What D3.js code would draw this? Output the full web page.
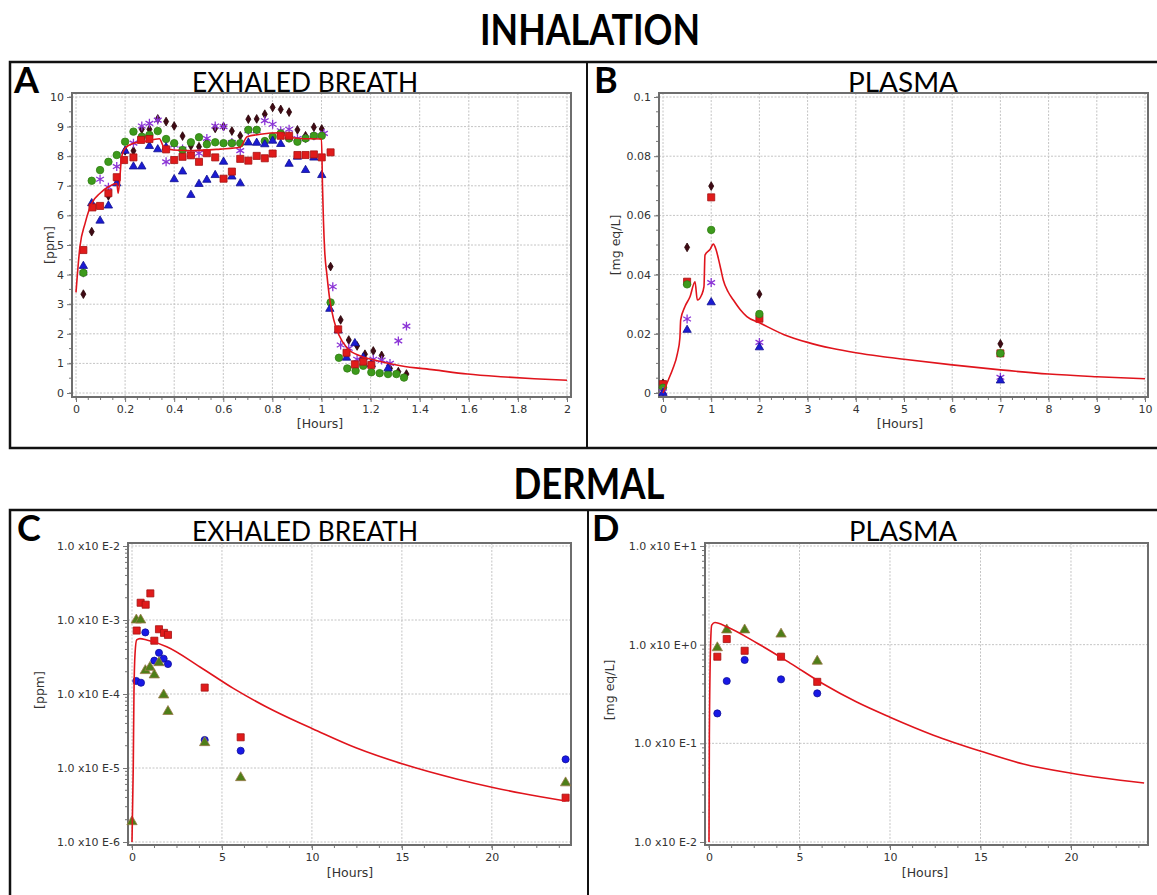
<!DOCTYPE html>
<html>
<head>
<meta charset="utf-8">
<script src="https://cdn.jsdelivr.net/npm/d3@7"></script>
<style>
  body { margin: 0; background: #fff; }
  svg { display: block; }
</style>
</head>
<body>
<script>
// Panel A - inhalation, exhaled breath [ppm] vs hours
const aDiamond = [[0.03,3.34],[0.064,5.45],[0.132,6.66],[0.166,7.2],[0.2,8.18],[0.234,8.18],[0.268,8.91],[0.299,8.91],[0.333,9.26],[0.367,9.17],[0.4,9.02],[0.434,8.68],[0.468,8.35],[0.501,8.32],[0.533,8.46],[0.567,8.94],[0.601,9.0],[0.635,8.85],[0.669,8.69],[0.702,9.25],[0.736,9.26],[0.769,9.42],[0.801,9.65],[0.834,9.58],[0.868,9.49],[0.902,8.89],[0.935,8.69],[0.969,8.98],[1.001,8.92],[1.037,4.27],[1.078,2.47],[1.111,1.79],[1.145,1.59],[1.177,1.31],[1.211,1.42],[1.245,1.27],[1.279,0.83],[1.313,0.72],[1.346,0.64]];
const aSquare = [[0.03,4.83],[0.067,6.27],[0.098,6.32],[0.132,6.75],[0.166,7.29],[0.196,7.87],[0.234,7.96],[0.265,8.55],[0.299,8.58],[0.367,8.23],[0.4,7.87],[0.434,7.98],[0.468,8.03],[0.501,7.81],[0.533,8.1],[0.567,7.96],[0.601,7.24],[0.635,7.48],[0.669,7.91],[0.702,7.85],[0.736,8.01],[0.769,7.93],[0.801,8.09],[0.834,8.69],[0.868,8.69],[0.902,8.04],[0.935,8.04],[0.969,8.06],[1.001,7.96],[1.037,8.13],[1.068,2.15],[1.102,1.36],[1.136,0.97],[1.17,1.06],[1.203,0.95]];
const aCircle = [[0.03,4.06],[0.064,7.17],[0.098,7.53],[0.132,7.81],[0.166,8.04],[0.2,8.49],[0.234,8.83],[0.268,8.66],[0.299,8.72],[0.333,8.85],[0.367,8.58],[0.4,8.44],[0.434,8.21],[0.468,8.47],[0.501,8.64],[0.533,8.4],[0.567,8.47],[0.601,8.44],[0.635,8.44],[0.669,8.44],[0.702,8.89],[0.736,8.89],[0.769,8.51],[0.801,8.66],[0.834,8.77],[0.868,8.6],[0.902,8.49],[0.935,8.6],[0.969,8.69],[1.001,8.69],[1.037,3.06],[1.071,1.19],[1.105,0.83],[1.139,0.75],[1.17,0.92],[1.203,0.7],[1.237,0.67],[1.271,0.64],[1.305,0.64],[1.336,0.52]];
const aTriangle = [[0.03,4.29],[0.064,6.41],[0.098,5.82],[0.132,6.33],[0.166,7.08],[0.2,8.18],[0.234,7.65],[0.268,7.65],[0.299,8.34],[0.333,8.23],[0.367,8.3],[0.4,7.22],[0.434,7.48],[0.468,6.69],[0.501,7.06],[0.533,7.2],[0.567,7.36],[0.601,7.81],[0.635,7.31],[0.669,7.08],[0.702,8.46],[0.736,8.45],[0.769,8.4],[0.801,8.52],[0.834,8.41],[0.868,7.74],[0.902,7.98],[0.935,7.53],[0.969,7.95],[1.001,7.36],[1.034,2.84],[1.068,2.11],[1.102,1.19],[1.136,1.68],[1.17,1.2],[1.203,0.97],[1.271,0.83]];
const aStar = [[0.03,4.06],[0.098,7.22],[0.132,6.95],[0.166,7.65],[0.234,8.44],[0.268,9.02],[0.299,9.11],[0.333,9.22],[0.367,7.81],[0.4,8.38],[0.434,8.24],[0.468,8.06],[0.501,8.1],[0.533,8.6],[0.567,9.02],[0.601,9.0],[0.635,8.46],[0.669,8.19],[0.702,8.86],[0.736,8.86],[0.769,9.2],[0.801,9.08],[0.834,8.86],[0.868,8.91],[0.902,8.6],[0.935,8.6],[0.969,8.69],[1.01,8.77],[1.046,3.59],[1.078,1.62],[1.111,1.51],[1.145,1.14],[1.211,1.14],[1.245,1.11],[1.279,1.0],[1.313,1.76],[1.346,2.26]];
const aModel = [[0,3.4],[0.016,4.94],[0.037,5.73],[0.064,6.41],[0.098,6.75],[0.132,6.97],[0.166,7.08],[0.172,6.75],[0.186,7.98],[0.2,8.27],[0.234,8.44],[0.275,8.49],[0.34,8.59],[0.357,8.32],[0.397,8.21],[0.479,8.19],[0.588,8.24],[0.669,8.3],[0.697,8.66],[0.751,8.74],[0.833,8.79],[0.86,8.66],[0.914,8.6],[1.0,8.58],[1.004,7.0],[1.008,5.8],[1.013,4.8],[1.022,4.0],[1.034,3.14],[1.05,2.47],[1.071,1.96],[1.105,1.51],[1.159,1.25],[1.227,1.09],[1.322,0.92],[1.459,0.78],[1.595,0.64],[1.73,0.55],[1.867,0.48],[2.0,0.43]];

// Panel B - inhalation, plasma [mg eq/L]
const bDiamond = [[0,0.0033],[0.5,0.0492],[1,0.0699],[2,0.0334],[7,0.0166]];
const bSquare = [[0,0.003],[0.5,0.0376],[1,0.0661],[2,0.0251],[7,0.0134]];
const bCircle = [[0,0.0018],[0.5,0.0367],[1,0.0551],[2,0.0267],[7,0.0134]];
const bStar = [[0,0.0004],[0.5,0.025],[1,0.0373],[2,0.0171],[7,0.0053]];
const bTriangle = [[0,0],[0.5,0.0213],[1,0.0306],[2,0.0154],[7,0.0042]];
const bModel = [[0,0],[0.11,0.0044],[0.2,0.008],[0.3,0.0134],[0.35,0.0185],[0.367,0.0247],[0.456,0.0292],[0.56,0.0325],[0.664,0.0376],[0.712,0.0314],[0.8,0.0331],[0.85,0.0359],[0.871,0.0466],[0.975,0.0485],[1.044,0.0503],[1.1,0.0485],[1.148,0.0455],[1.2,0.0418],[1.25,0.0382],[1.35,0.0342],[1.46,0.0314],[1.6,0.0282],[1.74,0.0258],[2.03,0.0235],[2.5,0.0198],[3.0,0.0171],[3.5,0.0151],[4.0,0.0136],[4.5,0.0124],[5,0.0114],[6,0.0095],[7,0.0078],[8,0.0064],[9,0.0055],[10,0.0048]];

// Panel C - dermal, exhaled breath [ppm] (log)
const cSquare = [[0.26,7.2e-4],[0.48,1.71e-3],[0.76,1.61e-3],[1.02,2.29e-3],[1.24,5.25e-4],[1.5,7.5e-4],[1.78,6.7e-4],[2.0,6.3e-4],[4.04,1.22e-4],[6.04,2.6e-5],[24.1,3.97e-6]];
const cCircle = [[0.24,1.5e-4],[0.5,1.42e-4],[0.74,6.8e-4],[1.24,2.82e-4],[1.5,3.6e-4],[1.76,3.0e-4],[2.0,2.54e-4],[4.04,2.39e-5],[6.04,1.71e-5],[24.1,1.31e-5]];
const cTriangle = [[0,1.88e-6],[0.24,1.0e-3],[0.48,1.0e-3],[0.74,2.07e-4],[1.0,2.29e-4],[1.24,1.81e-4],[1.5,2.65e-4],[1.76,9.7e-5],[2.0,5.8e-5],[4.04,2.2e-5],[6.04,7.4e-6],[24.1,6.3e-6]];
const cModel = [[0,1e-6],[0.07,1.04e-5],[0.11,1.07e-4],[0.17,3.55e-4],[0.26,5.37e-4],[0.44,5.6e-4],[0.82,5.37e-4],[1.93,4.35e-4],[3.78,2.32e-4],[5.61,1.2e-4],[7.48,6.67e-5],[9.33,4.05e-5],[10.06,3.37e-5],[12.48,1.86e-5],[15.06,1.13e-5],[18.04,7.1e-6],[20.06,5.45e-6],[21.72,4.52e-6],[24.1,3.58e-6]];

// Panel D - dermal, plasma [mg eq/L] (log)
const dTriangle = [[0.46,0.93],[0.98,1.41],[1.97,1.41],[3.98,1.28],[5.98,0.68]];
const dSquare = [[0.46,0.755],[0.98,1.14],[1.97,0.867],[3.98,0.755],[5.98,0.42]];
const dCircle = [[0.46,0.201],[0.98,0.428],[1.97,0.70],[3.98,0.445],[5.98,0.321]];
const dModel = [[0,0.01],[0.02,0.117],[0.09,1.03],[0.15,1.58],[0.33,1.68],[0.98,1.52],[2.64,1.04],[4.48,0.651],[6.32,0.399],[8.16,0.262],[10,0.184],[12.4,0.121],[14.98,0.0836],[17.37,0.0617],[19.95,0.05],[21.79,0.0445],[24.04,0.0396]];

const linTicksA = [0, 0.2, 0.4, 0.6, 0.8, 1, 1.2, 1.4, 1.6, 1.8, 2];
const linTicksAY = [0, 1, 2, 3, 4, 5, 6, 7, 8, 9, 10];
const linTicksB = [0, 1, 2, 3, 4, 5, 6, 7, 8, 9, 10];
const linTicksBY = [0, 0.02, 0.04, 0.06, 0.08, 0.1];
const dermalTicksX = [0, 5, 10, 15, 20];
const logTicksC = [1e-6, 1e-5, 1e-4, 1e-3, 1e-2];
const logTicksD = [1e-2, 1e-1, 1e0, 1e1];

// marker looks
const styles = {
  diamond: { type: d3.symbolDiamond, size: 22, fill: '#3f0a14', stroke: '#2a0408' },
  square: { type: d3.symbolSquare, size: 50, fill: '#e01b1b', stroke: '#a51212' },
  circle: { type: d3.symbolCircle, size: 44, fill: '#3d9a1c', stroke: '#2f7d12' },
  triangle: { type: d3.symbolTriangle, size: 30, fill: '#1b1bd2', stroke: '#10108f' },
  star: { type: d3.symbolAsterisk, size: 56, fill: 'none', stroke: '#8b35d6' },
  gTriangle: { type: d3.symbolTriangle, size: 46, fill: '#4e7e18', stroke: '#9b7a4a' },
  bCircle: { type: d3.symbolCircle, size: 40, fill: '#1818e6', stroke: '#10109a' }
};

const logFmt = d => {
  const e = Math.round(Math.log10(d));
  return '1.0 x10 E' + (e >= 0 ? '+' : '') + e;
};

const svg = d3.select('body')
  .append('svg')
  .attr('width', 1157)
  .attr('height', 895);

// outer frames
svg.append('rect')
  .attr('x', 10).attr('y', 62).attr('width', 1160).attr('height', 386)
  .attr('fill', 'none').attr('stroke', '#111').attr('stroke-width', 2.5);
svg.append('line')
  .attr('x1', 587).attr('x2', 587).attr('y1', 62).attr('y2', 448)
  .attr('stroke', '#111').attr('stroke-width', 2);
svg.append('rect')
  .attr('x', 10).attr('y', 510).attr('width', 1160).attr('height', 400)
  .attr('fill', 'none').attr('stroke', '#111').attr('stroke-width', 2.5);
svg.append('line')
  .attr('x1', 588).attr('x2', 588).attr('y1', 510).attr('y2', 900)
  .attr('stroke', '#111').attr('stroke-width', 2);

// section headings
const heading = (txt, x, y, len) => svg.append('text')
  .attr('x', x).attr('y', y)
  .attr('text-anchor', 'middle')
  .attr('font-family', 'Lato, "Open Sans", sans-serif')
  .attr('font-weight', 'bold')
  .attr('font-size', 42)
  .attr('textLength', len)
  .attr('lengthAdjust', 'spacingAndGlyphs')
  .text(txt);
heading('INHALATION', 590, 45, 220);
heading('DERMAL', 589, 499, 151);

function drawPanel(p) {
  const g = svg.append('g');
  const [fx0, fy0, fx1, fy1] = p.frame;

  // grid
  g.append('g').selectAll('line')
    .data(p.xTicks).join('line')
    .attr('x1', d => p.x(d)).attr('x2', d => p.x(d))
    .attr('y1', fy0).attr('y2', fy1)
    .attr('stroke', '#c4c4c4').attr('stroke-dasharray', '2,1.5');
  g.append('g').selectAll('line')
    .data(p.yTicks).join('line')
    .attr('x1', fx0).attr('x2', fx1)
    .attr('y1', d => p.y(d)).attr('y2', d => p.y(d))
    .attr('stroke', '#c4c4c4').attr('stroke-dasharray', '2,1.5');

  // minor ticks
  g.append('g').selectAll('line')
    .data(p.xMinor).join('line')
    .attr('x1', d => p.x(d)).attr('x2', d => p.x(d))
    .attr('y1', fy1).attr('y2', fy1 + 3)
    .attr('stroke', '#777');
  g.append('g').selectAll('line')
    .data(p.yMinor).join('line')
    .attr('x1', fx0 - 3).attr('x2', fx0)
    .attr('y1', d => p.y(d)).attr('y2', d => p.y(d))
    .attr('stroke', '#777');

  // axes
  const ax = g.append('g')
    .attr('transform', `translate(0, ${fy1})`)
    .call(d3.axisBottom(p.x).tickValues(p.xTicks).tickSize(5).tickPadding(3).tickFormat(p.xFmt));
  const ay = g.append('g')
    .attr('transform', `translate(${fx0}, 0)`)
    .call(d3.axisLeft(p.y).tickValues(p.yTicks).tickSize(5).tickPadding(3).tickFormat(p.yFmt));
  [ax, ay].forEach(a => {
    a.select('.domain').remove();
    a.selectAll('.tick line').attr('stroke', '#777');
    a.selectAll('.tick text')
      .attr('fill', '#333')
      .attr('font-family', '"DejaVu Sans", Verdana, sans-serif')
      .attr('font-size', 11);
  });

  // plot frame
  g.append('rect')
    .attr('x', fx0).attr('y', fy0)
    .attr('width', fx1 - fx0).attr('height', fy1 - fy0)
    .attr('fill', 'none').attr('stroke', '#6e6e6e').attr('stroke-width', 2);

  // markers
  p.series.forEach(s => {
    const st = styles[s.style];
    g.append('g').selectAll('path')
      .data(s.data).join('path')
      .attr('transform', d => `translate(${p.x(d[0])}, ${p.y(d[1])})`)
      .attr('d', d3.symbol().type(st.type).size(st.size))
      .attr('fill', st.fill)
      .attr('stroke', st.stroke)
      .attr('stroke-width', s.style === 'star' ? 1.3 : 0.8);
  });

  // model curve
  g.append('path')
    .datum(p.model)
    .attr('d', d3.line().curve(d3.curveMonotoneX).x(d => p.x(d[0])).y(d => p.y(d[1])))
    .attr('fill', 'none')
    .attr('stroke', '#e0141c')
    .attr('stroke-width', 1.6);

  // titles and axis labels
  g.append('text')
    .attr('x', p.letter[0]).attr('y', p.letter[1])
    .attr('font-family', 'Lato, "Open Sans", sans-serif')
    .attr('font-weight', 'bold').attr('font-size', 36)
    .text(p.letterText);
  g.append('text')
    .attr('x', p.title[0]).attr('y', p.title[1])
    .attr('text-anchor', 'middle')
    .attr('font-family', 'Lato, "Open Sans", sans-serif')
    .attr('font-size', 26)
    .attr('textLength', p.title[2])
    .attr('lengthAdjust', 'spacingAndGlyphs')
    .text(p.titleText);
  g.append('text')
    .attr('x', p.xLab[0]).attr('y', p.xLab[1])
    .attr('text-anchor', 'middle')
    .attr('fill', '#333')
    .attr('font-family', '"DejaVu Sans", Verdana, sans-serif')
    .attr('font-size', 12.5)
    .text('[Hours]');
  g.append('text')
    .attr('transform', `translate(${p.yLab[0]}, ${p.yLab[1]}) rotate(-90)`)
    .attr('text-anchor', 'middle')
    .attr('fill', '#333')
    .attr('font-family', '"DejaVu Sans", Verdana, sans-serif')
    .attr('font-size', 12.5)
    .text(p.yLabText);
}

const range = (a, b, s) => d3.range(a, b + s / 2, s);
const logMinor = (lo, hi) => {
  const out = [];
  for (let e = lo; e < hi; e++) for (let m = 2; m <= 9; m++) out.push(m * Math.pow(10, e));
  return out;
};

// A
drawPanel({
  x: d3.scaleLinear().domain([0, 2]).range([76, 567]),
  y: d3.scaleLinear().domain([0, 10]).range([393, 97]),
  frame: [72, 93, 571, 397],
  xTicks: linTicksA, yTicks: linTicksAY,
  xMinor: range(0, 2, 0.05), yMinor: range(0, 10, 0.5),
  xFmt: d3.format('~g'), yFmt: d3.format('~g'),
  series: [
    { data: aDiamond, style: 'diamond' },
    { data: aStar, style: 'star' },
    { data: aCircle, style: 'circle' },
    { data: aTriangle, style: 'triangle' },
    { data: aSquare, style: 'square' }
  ],
  model: aModel,
  letter: [14, 93], letterText: 'A',
  title: [305, 92, 226], titleText: 'EXHALED BREATH',
  xLab: [320, 428], yLab: [54, 245], yLabText: '[ppm]'
});

// B
drawPanel({
  x: d3.scaleLinear().domain([0, 10]).range([663, 1145]),
  y: d3.scaleLinear().domain([0, 0.1]).range([393, 97]),
  frame: [659, 93, 1148, 397],
  xTicks: linTicksB, yTicks: linTicksBY,
  xMinor: range(0, 10, 0.25), yMinor: range(0, 0.1, 0.005),
  xFmt: d3.format('~g'), yFmt: d3.format('~g'),
  series: [
    { data: bDiamond, style: 'diamond' },
    { data: bSquare, style: 'square' },
    { data: bCircle, style: 'circle' },
    { data: bStar, style: 'star' },
    { data: bTriangle, style: 'triangle' }
  ],
  model: bModel,
  letter: [594, 93], letterText: 'B',
  title: [903, 92, 110], titleText: 'PLASMA',
  xLab: [900, 428], yLab: [620, 245], yLabText: '[mg eq/L]'
});

// C
drawPanel({
  x: d3.scaleLinear().domain([0, 24.4]).range([132, 571]),
  y: d3.scaleLog().domain([1e-6, 1e-2]).range([842, 546]),
  frame: [128, 543, 571, 845],
  xTicks: dermalTicksX, yTicks: logTicksC,
  xMinor: range(0, 24, 1.25), yMinor: logMinor(-6, -2),
  xFmt: d3.format('~g'), yFmt: logFmt,
  series: [
    { data: cSquare, style: 'square' },
    { data: cCircle, style: 'bCircle' },
    { data: cTriangle, style: 'gTriangle' }
  ],
  model: cModel,
  letter: [17, 541], letterText: 'C',
  title: [305, 541, 226], titleText: 'EXHALED BREATH',
  xLab: [350, 877], yLab: [44, 690], yLabText: '[ppm]'
});

// D
drawPanel({
  x: d3.scaleLinear().domain([0, 24.2]).range([709, 1147]),
  y: d3.scaleLog().domain([1e-2, 1e1]).range([842, 546]),
  frame: [705, 543, 1148, 845],
  xTicks: dermalTicksX, yTicks: logTicksD,
  xMinor: range(0, 24, 1.25), yMinor: logMinor(-2, 1),
  xFmt: d3.format('~g'), yFmt: logFmt,
  series: [
    { data: dTriangle, style: 'gTriangle' },
    { data: dSquare, style: 'square' },
    { data: dCircle, style: 'bCircle' }
  ],
  model: dModel,
  letter: [592, 541], letterText: 'D',
  title: [903, 541, 108], titleText: 'PLASMA',
  xLab: [925, 877], yLab: [614, 690], yLabText: '[mg eq/L]'
});
</script>
</body>
</html>
